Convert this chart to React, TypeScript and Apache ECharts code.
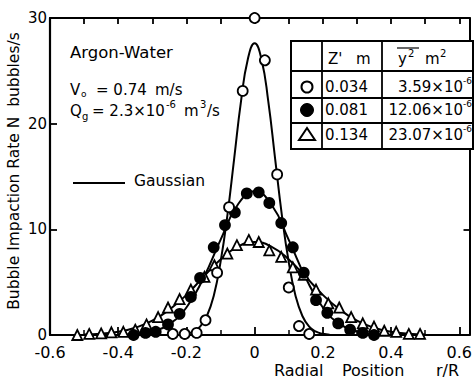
import React, { useEffect, useRef } from "react";
import * as echarts from "echarts";

// Measured points (r/R, N bubbles/s)
const openCircles: [number, number][] = [
  [-0.24, 0.1], [-0.205, 0.1], [-0.17, 0.2], [-0.144, 1.4], [-0.11, 5.9], [-0.075, 12.1],
  [-0.035, 23.1], [0.0, 30.0], [0.03, 26.0], [0.066, 15.2], [0.1, 4.5], [0.13, 0.85], [0.16, 0.1],
];
const filledCircles: [number, number][] = [
  [-0.355, 0], [-0.32, 0.2], [-0.29, 0.3], [-0.254, 1.0], [-0.22, 2.0], [-0.187, 3.6],
  [-0.16, 5.4], [-0.12, 8.3], [-0.087, 10.4], [-0.058, 11.6], [-0.023, 13.4], [0.012, 13.5],
  [0.043, 12.5], [0.078, 10.6], [0.112, 8.3], [0.144, 5.9], [0.18, 3.3], [0.213, 2.1],
  [0.245, 1.1], [0.28, 0.5], [0.317, 0.2], [0.35, 0],
];
const triangles: [number, number][] = [
  [-0.52, 0], [-0.485, 0.1], [-0.45, 0.15], [-0.42, 0.25], [-0.385, 0.3], [-0.35, 0.5],
  [-0.317, 1.0], [-0.283, 1.7], [-0.254, 2.6], [-0.22, 3.4], [-0.187, 4.3], [-0.147, 5.5],
  [-0.118, 6.6], [-0.08, 7.7], [-0.052, 8.5], [-0.017, 9.0], [0.012, 8.8], [0.043, 8.0],
  [0.078, 7.4], [0.112, 6.4], [0.144, 5.7], [0.18, 4.3], [0.216, 3.0], [0.248, 2.6],
  [0.283, 1.7], [0.317, 1.1], [0.35, 0.8], [0.38, 0.4], [0.415, 0.3], [0.452, 0.1], [0.485, 0.1],
];

// Gaussian fit curves
const gaussOpen: [number, number][] = [
  [-0.22, 0.03], [-0.2, 0.11], [-0.18, 0.31], [-0.16, 0.79], [-0.14, 1.8], [-0.12, 3.7],
  [-0.1, 6.9], [-0.08, 11.3], [-0.06, 16.7], [-0.04, 22.1], [-0.02, 26.1], [0, 27.6],
  [0.02, 26.1], [0.04, 22.1], [0.06, 16.7], [0.08, 11.3], [0.1, 6.9], [0.12, 3.7],
  [0.14, 1.8], [0.16, 0.79], [0.18, 0.31], [0.2, 0.11], [0.22, 0.03],
];
const gaussFilled: [number, number][] = [
  [-0.4, 0.02], [-0.35, 0.09], [-0.3, 0.33], [-0.25, 1.03], [-0.2, 2.6], [-0.15, 5.4],
  [-0.1, 9.0], [-0.05, 12.3], [0, 13.6], [0.05, 12.3], [0.1, 9.0], [0.15, 5.4],
  [0.2, 2.6], [0.25, 1.03], [0.3, 0.33], [0.35, 0.09], [0.4, 0.02],
];
const gaussTriangle: [number, number][] = [
  [-0.5, 0.05], [-0.45, 0.13], [-0.4, 0.31], [-0.35, 0.69], [-0.3, 1.35], [-0.25, 2.4],
  [-0.2, 3.8], [-0.15, 5.5], [-0.1, 7.15], [-0.05, 8.35], [0, 8.8], [0.05, 8.35],
  [0.1, 7.15], [0.15, 5.5], [0.2, 3.8], [0.25, 2.4], [0.3, 1.35], [0.35, 0.69],
  [0.4, 0.31], [0.45, 0.13], [0.5, 0.05],
];

const yTicks = [0, 10, 20, 30];
const xLabels = ["-0.6", "-0.4", "-0.2", "0", "0.2", "0.4", "0.6"];
const tableZ = ["0.034", "0.081", "0.134"];
const tableY2 = ["3.59×10", "12.06×10", "23.07×10"];

const FONT = "DejaVu Sans";

export default function App() {
  const ref = useRef<HTMLDivElement>(null);
  useEffect(() => {
    if (!ref.current) return;
    const chart = echarts.init(ref.current, undefined, { renderer: "svg" });
    const txt = (x: number, y: number, text: string, size = 15, align = "left", vAlign = "middle") => ({
      type: "text",
      x,
      y,
      style: { text, font: `${size}px ${FONT}`, fill: "#000", align, verticalAlign: vAlign },
      z: 20,
    });
    const ln = (x1: number, y1: number, x2: number, y2: number, w = 1.8) => ({
      type: "line",
      shape: { x1, y1, x2, y2 },
      style: { stroke: "#000", lineWidth: w },
      z: 20,
    });
    const rowY = [87, 110, 135];
    const graphics: any[] = [
      // y axis title
      {
        type: "text",
        x: 14,
        y: 171,
        rotation: Math.PI / 2,
        style: {
          text: "Bubble Impaction Rate N  bubbles/s",
          font: `15.5px ${FONT}`,
          fill: "#000",
          align: "center",
          verticalAlign: "middle",
        },
        z: 20,
      },
      // x axis title
      txt(274, 370, "Radial", 16),
      txt(342, 370, "Position", 16),
      txt(436, 370, "r/R", 16),
      // annotations
      txt(70, 52, "Argon-Water", 16.5),
      txt(70, 90, "V", 15),
      txt(81, 94, "o", 9),
      txt(96, 90, "= 0.74", 15),
      txt(155, 90, "m/s", 15),
      txt(70, 111, "Q", 15),
      txt(82, 116, "g", 10),
      txt(92, 111, "= 2.3×10", 15),
      txt(166, 104, "-6", 10),
      txt(184, 111, "m", 15),
      txt(200, 104, "3", 10),
      txt(207, 111, "/s", 15),
      ln(73, 183, 125, 183, 2),
      txt(134, 181, "Gaussian", 15.5),
      // table frame
      { type: "rect", shape: { x: 291, y: 41, width: 182, height: 108 }, style: { fill: "#fff", stroke: "#000", lineWidth: 2 }, z: 19 },
      ln(322, 41, 322, 149),
      ln(382, 41, 382, 149),
      ln(291, 71, 473, 71),
      ln(291, 98, 473, 98),
      ln(291, 123, 473, 123),
      txt(328, 59, "Z'", 15),
      txt(356, 59, "m", 15),
      txt(398, 59, "y", 15),
      txt(408, 53, "2", 10),
      ln(397, 48, 419, 48, 1.2),
      txt(425, 59, "m", 15),
      txt(440, 53, "2", 10),
      // table markers
      { type: "circle", shape: { cx: 307, cy: rowY[0], r: 5.5 }, style: { fill: "#fff", stroke: "#000", lineWidth: 2 }, z: 20 },
      { type: "circle", shape: { cx: 307, cy: rowY[1], r: 6.5 }, style: { fill: "#000", stroke: "#000", lineWidth: 1 }, z: 20 },
      {
        type: "polygon",
        shape: { points: [[307, rowY[2] - 7], [299, rowY[2] + 5], [315, rowY[2] + 5]] },
        style: { fill: "#fff", stroke: "#000", lineWidth: 2 },
        z: 20,
      },
    ];
    tableZ.forEach((z, i) => graphics.push(txt(325, rowY[i], z, 15)));
    tableY2.forEach((t, i) => {
      graphics.push(txt(463, rowY[i], t, 15, "right"));
      graphics.push(txt(463, rowY[i] - 6, "-6", 9));
    });

    const lineSeries = (data: [number, number][]) => ({
      type: "line",
      data,
      smooth: true,
      showSymbol: false,
      lineStyle: { color: "#000", width: 2 },
      z: 2,
      silent: true,
    });
    const scatter = (data: [number, number][], symbol: string, fill: string, size: number) => ({
      type: "scatter",
      data,
      symbol,
      symbolSize: size,
      clip: false,
      itemStyle: { color: fill, borderColor: "#000", borderWidth: 1.8, opacity: 1 },
      z: 3,
    });

    const labelFmt = (v: number) => {
      const k = Math.round(v * 10);
      if (Math.abs(v - k / 10) > 1e-6 || Math.abs(k) > 6 || k % 2 !== 0) return "";
      return xLabels[(k + 6) / 2];
    };

    chart.setOption({
      animation: false,
      backgroundColor: "#fff",
      textStyle: { fontFamily: FONT },
      grid: { left: 50, right: -2, top: 18, bottom: 43, containLabel: false },
      xAxis: [
        {
          type: "value",
          min: -0.6,
          max: 0.63,
          interval: 0.2,
          axisLine: { lineStyle: { color: "#000", width: 2.2 }, onZero: false },
          axisTick: { inside: true, length: 8, lineStyle: { color: "#000", width: 1.8 } },
          minorTick: { show: true, splitNumber: 2, length: 5, lineStyle: { color: "#000", width: 1.5 } },
          axisLabel: { formatter: labelFmt, color: "#000", fontSize: 16, fontFamily: FONT, margin: 9 },
          splitLine: { show: false },
        },
        {
          type: "value",
          position: "top",
          min: -0.6,
          max: 0.63,
          interval: 0.1,
          axisLine: { lineStyle: { color: "#000", width: 2.2 }, onZero: false },
          axisTick: { inside: true, length: 6, lineStyle: { color: "#000", width: 1.8 } },
          axisLabel: { show: false },
          splitLine: { show: false },
        },
      ],
      yAxis: [
        {
          type: "value",
          min: 0,
          max: 30,
          interval: 10,
          axisLine: { lineStyle: { color: "#000", width: 2.2 }, onZero: false },
          axisTick: { inside: true, length: 7, lineStyle: { color: "#000", width: 1.8 } },
          axisLabel: {
            formatter: (v: number) => (yTicks.includes(v) ? String(v) : ""),
            color: "#000",
            fontSize: 15,
            fontFamily: FONT,
            margin: 3,
          },
          splitLine: { show: false },
        },
        {
          type: "value",
          position: "right",
          min: 0,
          max: 30,
          interval: 10,
          axisLine: { lineStyle: { color: "#000", width: 2 }, onZero: false },
          axisTick: { inside: true, length: 6, lineStyle: { color: "#000", width: 1.8 } },
          axisLabel: { show: false },
          splitLine: { show: false },
        },
      ],
      series: [
        lineSeries(gaussTriangle),
        lineSeries(gaussFilled),
        lineSeries(gaussOpen),
        scatter(triangles, "triangle", "#fff", 10),
        scatter(filledCircles, "circle", "#000", 10),
        scatter(openCircles, "circle", "#fff", 10),
      ],
      graphic: graphics,
    });
    return () => chart.dispose();
  }, []);
  return <div ref={ref} style={{ width: 475, height: 378, position: "absolute", left: 0, top: 0 }} />;
}
